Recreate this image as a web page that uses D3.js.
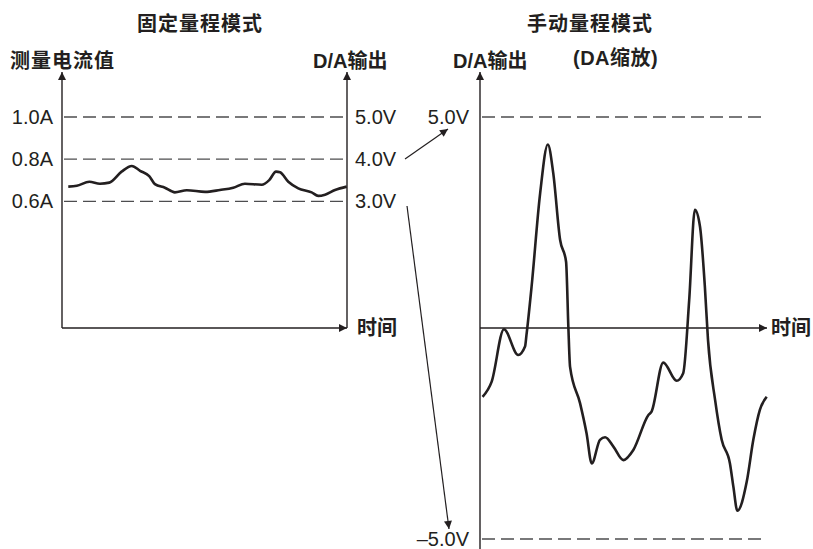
<!DOCTYPE html>
<html><head><meta charset="utf-8">
<script src="https://cdn.jsdelivr.net/npm/d3@7"></script>
<style>
html,body{margin:0;padding:0;background:#fff;}
text{font-family:"Liberation Sans",Arial,"Noto Sans CJK SC",sans-serif;fill:#231f20;}
</style></head>
<body>
<svg id="c" width="813" height="549"></svg>
<script>
// ---------- data ----------
const leftTitle = "固定量程模式";
const rightTitle = "手动量程模式";
const leftCurrentTicks = [0.6, 0.8, 1.0];
const leftCurrentLabels = ["0.6A", "0.8A", "1.0A"];
const leftVoltTicks = [3.0, 4.0, 5.0];
const leftVoltLabels = ["3.0V", "4.0V", "5.0V"];
const rightVoltTicks = [5.0, -5.0];
const rightVoltLabels = ["5.0V", "–5.0V"];

const leftTime = [2.2,5.2,9.6,13.3,16.6,20.9,24.5,27.4,30.6,32.6,36.1,39.6,43.8,50.2,55.4,60.1,64.2,70.1,72.7,75.1,76.5,79.4,82.9,87.6,89.9,92.3,95.8,99.9];
const leftCurrent = [0.670,0.674,0.693,0.684,0.689,0.741,0.768,0.745,0.720,0.682,0.665,0.643,0.653,0.645,0.654,0.665,0.684,0.679,0.701,0.741,0.738,0.693,0.662,0.643,0.626,0.632,0.654,0.670];

const rightTime = [0.9,4.1,8.4,13.4,15.8,16.3,18.1,21.1,23.8,25.7,28.1,30.2,31.0,31.6,35.1,37.4,39.2,42.1,43.9,46.8,50.3,53.8,59.1,60.2,64.3,69.0,71.3,73.4,75.4,77.2,78.9,80.0,82.5,84.8,87.7,88.9,90.3,93.6,95.9,98.2,100.6];
const rightVolt = [-1.63,-1.27,-0.03,-0.64,-0.44,-0.17,0.98,3.19,4.35,3.67,2.09,1.57,0.03,-0.92,-1.78,-2.50,-3.21,-2.65,-2.59,-2.81,-3.13,-2.89,-2.06,-1.98,-0.82,-1.25,-1.07,0.66,2.80,2.40,0.98,-0.28,-1.71,-2.65,-3.21,-3.76,-4.33,-3.64,-2.65,-1.94,-1.63];

// ---------- scales ----------
const svg = d3.select("#c");
const xL = d3.scaleLinear().domain([0,100]).range([62,347]);
const yA = d3.scaleLinear().domain([0,1]).range([328,117]);
const yVL = d3.scaleLinear().domain([0,5]).range([328,117]);
const xR = d3.scaleLinear().domain([0,100]).range([480,765]);
const yR = d3.scaleLinear().domain([-5,5]).range([539,117]);

const defs = svg.append("defs");
defs.append("marker").attr("id","ah").attr("viewBox","0 0 10 10").attr("refX",10).attr("refY",5)
  .attr("markerWidth",10).attr("markerHeight",8).attr("markerUnits","userSpaceOnUse").attr("orient","auto")
  .append("path").attr("d","M0,0 L10,5 L0,10 Z").attr("fill","#231f20");

const axisColor = "#231f20";
function line(x1,y1,x2,y2,arrow,w){
  const l = svg.append("line").attr("x1",x1).attr("y1",y1).attr("x2",x2).attr("y2",y2)
    .attr("stroke",axisColor).attr("stroke-width",w||1.4);
  if(arrow) l.attr("marker-end","url(#ah)");
  return l;
}
function dash(x1,x2,y){
  svg.append("line").attr("x1",x1).attr("x2",x2).attr("y1",y).attr("y2",y)
    .attr("stroke","#4d4d4f").attr("stroke-width",1.3).attr("stroke-dasharray","13,6");
}
function txt(x,y,s,opt){
  opt=opt||{};
  return svg.append("text").attr("x",x).attr("y",y).text(s)
    .attr("font-size",opt.size||20).attr("font-weight",opt.bold?"bold":"normal")
    .attr("text-anchor",opt.anchor||"start").attr("dominant-baseline","central")
    .style("letter-spacing",opt.ls||"0px");
}

// ---------- left chart ----------
leftCurrentTicks.forEach((v,i)=>{
  dash(xL(0)+2, xL(100)-2, yA(v));
  txt(53, yA(v), leftCurrentLabels[i], {anchor:"end"});
});
leftVoltTicks.forEach((v,i)=>{
  txt(355, yVL(v), leftVoltLabels[i]);
});
line(xL(0), yA(0), xL(0), 72, true);
line(xL(100), yA(0), xL(100), 72, true);
line(xL(0), yA(0), xL(100), yA(0), true);

svg.append("path").datum(leftTime.map((t,i)=>[t,leftCurrent[i]]))
  .attr("fill","none").attr("stroke","#231f20").attr("stroke-width",2.6).attr("stroke-linejoin","round")
  .attr("d", d3.line().x(d=>xL(d[0])).y(d=>yA(d[1])).curve(d3.curveMonotoneX));

txt(200, 24, leftTitle, {bold:true, size:20, anchor:"middle", ls:"1px"});
txt(10, 61, "测量电流值", {bold:true, size:20, ls:"1px"});
txt(313, 61, "D/A输出", {bold:true, size:20});
txt(357, yA(0), "时间", {bold:true, size:20});

// ---------- right chart ----------
rightVoltTicks.forEach((v,i)=>{
  dash(xR(0)+2, xR(100), yR(v));
  txt(469, yR(v), rightVoltLabels[i], {anchor:"end"});
});
line(xR(0), 549, xR(0), 72, true);
line(xR(0), yR(0), xR(100)+2, yR(0), true);

svg.append("path").datum(rightTime.map((t,i)=>[t,rightVolt[i]]))
  .attr("fill","none").attr("stroke","#231f20").attr("stroke-width",2.6).attr("stroke-linejoin","round")
  .attr("d", d3.line().x(d=>xR(d[0])).y(d=>yR(d[1])).curve(d3.curveMonotoneX));

txt(590, 24, rightTitle, {bold:true, size:20, anchor:"middle", ls:"1px"});
txt(453, 61, "D/A输出", {bold:true, size:20});
txt(573, 58, "(DA缩放)", {bold:true, size:20, ls:"0.5px"});
txt(771, yR(0), "时间", {bold:true, size:20});

// ---------- connecting arrows ----------
line(405, 159, 448, 129, true, 1.2);
line(407, 206, 449, 529, true, 1.2);
</script>
</body></html>
